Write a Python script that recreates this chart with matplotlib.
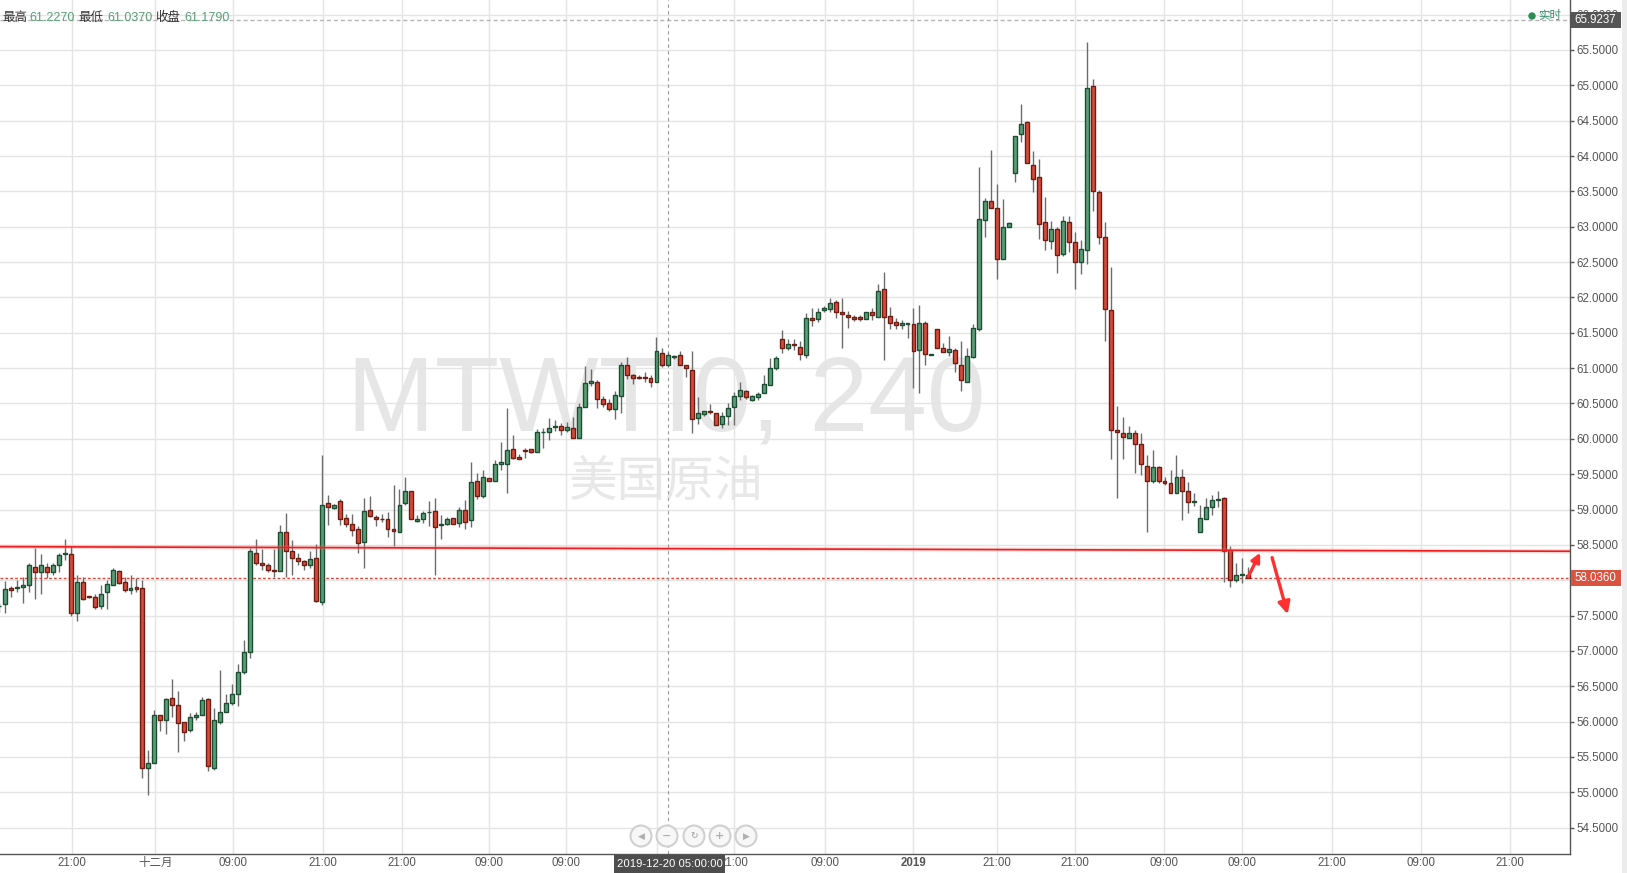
import numpy as np
import matplotlib
matplotlib.use('Agg')
import matplotlib.pyplot as plt
import matplotlib.transforms as mtransforms
from matplotlib.patches import Rectangle, Circle

plt.rcParams['font.family'] = ['Liberation Sans', 'Noto Sans CJK SC', 'DejaVu Sans']

# 4H candles (open, high, low, close)
opens = [57.63, 57.66, 57.89, 57.89, 57.90, 57.93, 58.19, 58.12, 58.19, 58.11,
         58.21, 58.37, 58.37, 57.53, 57.98, 57.77, 57.76, 57.63, 57.83, 57.93,
         58.13, 57.97, 57.86, 57.90, 57.89, 55.35, 55.41, 56.09, 56.03, 56.33,
         56.23, 55.99, 55.88, 56.06, 56.10, 56.32, 55.35, 56.00, 56.13, 56.26,
         56.39, 56.70, 56.99, 58.39, 58.25, 58.21, 58.15, 58.13, 58.68, 58.41,
         58.32, 58.27, 58.21, 58.31, 57.69, 59.09, 59.02, 59.12, 58.88, 58.79,
         58.72, 58.54, 58.99, 58.89, 58.865, 58.86, 58.72, 58.68, 59.09, 59.26,
         58.84, 58.86, 58.96, 58.98, 58.78, 58.79, 58.88, 58.81, 58.99, 58.85,
         59.40, 59.19, 59.44, 59.40, 59.64, 59.65, 59.85, 59.74, 59.84, 59.85,
         59.81, 60.09, 60.09, 60.17, 60.18, 60.13, 60.15, 60.01, 60.455, 60.785,
         60.80, 60.57, 60.50, 60.42, 60.60, 61.05, 60.90, 60.87, 60.87, 60.855,
         60.80, 61.22, 61.04, 61.155, 61.18, 61.04, 60.98, 60.29, 60.35, 60.39,
         60.36, 60.205, 60.32, 60.445, 60.60, 60.67, 60.545, 60.59, 60.645, 60.76,
         60.997, 61.41, 61.28, 61.34, 61.30, 61.18, 61.705, 61.69, 61.82, 61.84,
         61.93, 61.79, 61.747, 61.73, 61.72, 61.69, 61.80, 61.73, 62.115, 61.733,
         61.65, 61.605, 61.627, 61.62, 61.25, 61.634, 61.19, 61.55, 61.28, 61.223,
         61.25, 61.05, 60.81, 61.162, 61.56, 63.09, 63.36, 63.27, 62.55, 63.00,
         63.755, 64.31, 64.48, 63.88, 63.70, 63.06, 62.80, 62.965, 62.61, 63.06,
         62.78, 62.50, 62.67, 64.99, 63.49, 62.85, 61.82, 60.12, 60.08, 60.005,
         60.08, 59.93, 59.62, 59.40, 59.60, 59.41, 59.38, 59.23, 59.46, 59.26,
         59.105, 58.68, 58.87, 59.03, 59.14, 59.16, 58.43, 58.01, 58.08, 58.07]
highs = [57.68, 57.99, 57.92, 58.01, 58.04, 58.25, 58.46, 58.37, 58.24, 58.24,
         58.39, 58.58, 58.48, 58.07, 58.04, 57.78, 57.80, 57.93, 58.00, 58.17,
         58.14, 58.04, 58.08, 58.03, 58.00, 55.60, 56.16, 56.09, 56.34, 56.60,
         56.43, 56.00, 56.12, 56.14, 56.35, 56.34, 56.19, 56.73, 56.39, 56.53,
         56.82, 57.15, 58.45, 58.58, 58.44, 58.25, 58.44, 58.78, 58.95, 58.57,
         58.38, 58.29, 58.41, 58.51, 59.77, 59.21, 59.08, 59.15, 58.93, 58.94,
         58.77, 59.17, 59.19, 58.92, 58.94, 58.96, 59.35, 59.29, 59.46, 59.26,
         58.92, 58.98, 59.12, 59.16, 58.92, 58.90, 58.88, 59.03, 59.13, 59.67,
         59.51, 59.56, 59.44, 59.70, 59.95, 60.43, 60.06, 59.78, 59.87, 59.85,
         60.14, 60.16, 60.30, 60.26, 60.22, 60.24, 60.31, 60.50, 61.03, 60.99,
         60.83, 60.60, 60.56, 60.67, 61.09, 61.16, 60.92, 60.90, 60.945, 60.91,
         61.44, 61.28, 61.227, 61.18, 61.24, 61.04, 61.24, 60.59, 60.40, 60.49,
         60.36, 60.375, 60.50, 60.66, 60.80, 60.685, 60.615, 60.66, 60.90, 61.14,
         61.17, 61.54, 61.41, 61.41, 61.39, 61.78, 61.85, 61.85, 61.88, 61.99,
         61.97, 61.99, 61.81, 61.75, 61.75, 61.80, 61.85, 62.19, 62.36, 61.86,
         61.705, 61.68, 61.63, 61.85, 61.89, 61.66, 61.20, 61.55, 61.35, 61.45,
         61.29, 61.38, 61.28, 61.62, 63.85, 63.40, 64.08, 63.60, 63.39, 63.06,
         64.29, 64.73, 64.49, 64.07, 63.955, 63.42, 63.08, 63.00, 63.155, 63.155,
         62.93, 62.81, 65.62, 65.085, 63.515, 63.07, 62.43, 60.47, 60.31, 60.18,
         60.12, 60.085, 59.765, 59.84, 59.62, 59.46, 59.555, 59.765, 59.57, 59.39,
         59.24, 59.06, 59.16, 59.205, 59.26, 59.18, 58.48, 58.245, 58.31, 58.185]
lows = [57.55, 57.54, 57.76, 57.84, 57.68, 57.84, 57.74, 57.81, 58.03, 58.08,
        58.12, 58.28, 57.50, 57.43, 57.72, 57.75, 57.59, 57.60, 57.60, 57.93,
        57.94, 57.84, 57.80, 57.84, 55.20, 54.96, 55.41, 55.87, 55.82, 56.07,
        55.57, 55.72, 55.86, 56.03, 56.10, 55.30, 55.31, 55.96, 56.13, 56.23,
        56.22, 56.67, 56.90, 58.22, 58.14, 58.11, 58.04, 58.13, 58.04, 58.08,
        58.22, 58.15, 58.17, 57.69, 57.65, 58.78, 59.01, 58.78, 58.76, 58.63,
        58.39, 58.18, 58.89, 58.77, 58.82, 58.61, 58.49, 58.68, 59.07, 58.86,
        58.82, 58.81, 58.77, 58.08, 58.58, 58.78, 58.79, 58.75, 58.72, 58.76,
        59.15, 59.16, 59.41, 59.40, 59.56, 59.24, 59.71, 59.72, 59.73, 59.80,
        59.81, 59.87, 59.99, 60.11, 60.06, 60.09, 60.01, 60.01, 60.455, 60.75,
        60.43, 60.455, 60.39, 60.285, 60.36, 60.84, 60.77, 60.84, 60.81, 60.74,
        60.80, 61.01, 61.037, 61.13, 61.04, 60.88, 60.08, 60.205, 60.33, 60.35,
        60.19, 60.15, 60.19, 60.19, 60.545, 60.57, 60.53, 60.545, 60.645, 60.76,
        60.98, 61.21, 61.25, 61.25, 61.11, 61.14, 61.60, 61.65, 61.80, 61.79,
        61.71, 61.28, 61.57, 61.66, 61.67, 61.69, 61.68, 61.73, 61.12, 61.55,
        61.56, 61.56, 61.42, 60.72, 60.65, 61.04, 61.19, 61.28, 61.223, 61.17,
        60.94, 60.67, 60.81, 61.14, 61.53, 62.85, 63.26, 62.26, 62.55, 62.99,
        63.63, 64.20, 63.90, 63.49, 62.83, 62.67, 62.69, 62.34, 62.58, 62.64,
        62.12, 62.33, 62.48, 63.22, 62.755, 61.38, 59.72, 59.16, 59.71, 60.005,
        59.52, 59.49, 58.68, 59.37, 59.37, 59.35, 59.23, 59.23, 58.85, 58.95,
        59.05, 58.68, 58.87, 58.92, 59.03, 57.98, 57.905, 57.98, 57.96, 58.03]
closes = [57.64, 57.87, 57.86, 57.895, 57.93, 58.21, 58.11, 58.21, 58.11, 58.21,
          58.35, 58.38, 57.53, 57.97, 57.74, 57.765, 57.62, 57.81, 57.94, 58.15,
          57.96, 57.86, 57.89, 57.87, 55.34, 55.42, 56.09, 56.03, 56.32, 56.23,
          55.98, 55.86, 56.06, 56.10, 56.30, 55.37, 56.02, 56.13, 56.27, 56.39,
          56.70, 56.99, 58.41, 58.24, 58.22, 58.14, 58.13, 58.68, 58.41, 58.31,
          58.27, 58.21, 58.30, 57.70, 59.06, 59.03, 59.06, 58.86, 58.79, 58.71,
          58.52, 58.98, 58.91, 58.86, 58.86, 58.73, 58.69, 59.07, 59.26, 58.86,
          58.87, 58.95, 58.965, 58.75, 58.785, 58.86, 58.79, 58.99, 58.83, 59.39,
          59.19, 59.46, 59.41, 59.65, 59.67, 59.84, 59.73, 59.72, 59.835, 59.81,
          60.09, 60.095, 60.15, 60.175, 60.13, 60.17, 60.01, 60.45, 60.785, 60.82,
          60.57, 60.49, 60.42, 60.615, 61.04, 60.90, 60.86, 60.855, 60.86, 60.80,
          61.24, 61.04, 61.179, 61.17, 61.05, 60.995, 60.275, 60.36, 60.39, 60.375,
          60.19, 60.33, 60.43, 60.60, 60.685, 60.59, 60.60, 60.63, 60.77, 60.997,
          61.14, 61.29, 61.34, 61.325, 61.195, 61.705, 61.68, 61.80, 61.85, 61.92,
          61.80, 61.76, 61.72, 61.69, 61.70, 61.79, 61.747, 62.09, 61.72, 61.634,
          61.605, 61.634, 61.63, 61.24, 61.634, 61.195, 61.195, 61.28, 61.223, 61.266,
          61.07, 60.83, 61.167, 61.563, 63.105, 63.36, 63.26, 62.54, 62.99, 63.05,
          64.29, 64.46, 63.90, 63.68, 63.04, 62.81, 62.965, 62.60, 63.08, 62.78,
          62.50, 62.68, 64.96, 63.50, 62.85, 61.83, 60.12, 60.095, 60.02, 60.08,
          59.92, 59.64, 59.40, 59.60, 59.40, 59.38, 59.23, 59.46, 59.26, 59.10,
          59.11, 58.885, 59.03, 59.13, 59.145, 58.42, 58.01, 58.07, 58.085, 58.036]

# time axis: gridline positions (candle index) and their labels;
# the label under the crosshair time box is hidden in the reference
tick_pos = [12.14, 26.15, 39.1, 54.15, 67.37, 81.98, 94.93, 110.08, 122.97,
            138.19, 152.98, 166.97, 180.07, 194.91, 207.96, 223.02, 237.91, 252.8]
tick_labels = ['21:00', '十二月', '09:00', '21:00', '21:00', '09:00', '09:00',
               '', '21:00', '09:00', '2019', '21:00', '21:00', '09:00',
               '09:00', '21:00', '09:00', '21:00']

cross_idx = 112
cross_label = '2019-12-20 05:00:00'
max_line = 65.9237
trend_x = [0.16, 262.84]
trend_y = [58.475, 58.41]
arrows = [((209.0, 58.05), (211.0, 58.39), 13), ((213.0, 58.32), (215.6, 57.52), 18)]

W, H = 1627, 873
GREEN, GREEN_E = '#5a9f77', '#1d4d33'
RED, RED_E = '#d64b3a', '#6e1d14'
TXT = '#555555'

o = np.array(opens); h = np.array(highs); l = np.array(lows); c = np.array(closes)
x = np.arange(len(o))
up = c >= o

fig = plt.figure(figsize=(W / 100, H / 100), dpi=100)
ax = fig.add_axes([0, 19 / H, 1570 / W, 854 / H])
ax.set_xlim(0.163, 262.84)
ax.set_ylim(54.128, 66.207)

# watermark
ax.text(666 / W, 1 - 431 / H, 'MTWTI0, 240', transform=fig.transFigure,
        ha='center', va='baseline', fontsize=76, color='#e6e6e6', zorder=0.3,
        family=['Liberation Sans', 'DejaVu Sans'])
ax.text(666 / W, 1 - 482 / H, '美国原油', transform=fig.transFigure,
        ha='center', va='center', fontsize=35, color='#e8e8e8', zorder=0.3,
        family=['Noto Sans CJK SC', 'DejaVu Sans'])

# grid and axes
ax.set_yticks(np.arange(54.5, 66.01, 0.5))
ax.yaxis.tick_right()
ax.yaxis.set_major_formatter(plt.FormatStrFormatter('%.4f'))
ax.set_xticks(tick_pos)
ax.set_xticklabels(tick_labels)
ax.xaxis.get_ticklabels()[10].set_fontweight('bold')
ax.tick_params(axis='y', length=3, width=1, color=TXT, pad=1.5, labelsize=8.3, labelcolor=TXT)
ax.tick_params(axis='x', length=0, pad=2, labelsize=8.3, labelcolor=TXT)
ax.grid(color='#e4e4e4', lw=1)
ax.set_axisbelow(True)
for s in ['top', 'left']:
    ax.spines[s].set_visible(False)
for s in ['right', 'bottom']:
    ax.spines[s].set_color('#555555')
    ax.spines[s].set_linewidth(1)

# reference lines
ax.axhline(max_line, color='#b5b5b5', lw=1, ls=(0, (3, 2)), zorder=1)
ax.axhline(c[-1], color='#d9473a', lw=1, ls=(0, (2, 1.5)), zorder=1)
ax.axvline(cross_idx, color='#9a9a9a', lw=0.8, ls=(0, (3, 3)), zorder=1.5)
ax.plot(trend_x, trend_y, color='#ff8080', lw=3, alpha=0.3, zorder=3.9)
ax.plot(trend_x, trend_y, color='#ee1c1c', lw=1.2, zorder=4)

# candles
ax.vlines(x, l, h, color='#6c6c6c', lw=1, zorder=2)
body_bot = np.minimum(o, c)
body_h = np.maximum(np.abs(c - o), 0.012)
ax.bar(x[up], body_h[up], bottom=body_bot[up], width=0.66, color=GREEN,
       edgecolor=GREEN_E, lw=1, zorder=3)
ax.bar(x[~up], body_h[~up], bottom=body_bot[~up], width=0.66, color=RED,
       edgecolor=RED_E, lw=1, zorder=3)

# hand-drawn arrows
for (x0, y0), (x1, y1), ms in arrows:
    ax.annotate('', xy=(x1, y1), xytext=(x0, y0),
                arrowprops=dict(arrowstyle='-|>', color='#ff3030', lw=2.4,
                                mutation_scale=ms, shrinkA=0, shrinkB=0), zorder=5)

# price boxes on the right axis
bt = mtransforms.blended_transform_factory(ax.transAxes, ax.transData)
for val, col in [(max_line, '#555555'), (c[-1], '#d9533f')]:
    ax.add_patch(Rectangle((1.0005, val - 0.112), 50 / 1570, 0.224, transform=bt,
                           facecolor=col, edgecolor='none', clip_on=False, zorder=6))
    ax.text(1 + 25.5 / 1570, val, '%.4f' % val, transform=bt, ha='center', va='center',
            fontsize=8.3, color='white', zorder=7)

# crosshair time label
bx = mtransforms.blended_transform_factory(ax.transData, ax.transAxes)
ax.add_patch(Rectangle((cross_idx - 54 / 5.977, -0.0222), 111 / 5.977, 0.021, transform=bx,
                       facecolor='#4d4d4d', edgecolor='none', clip_on=False, zorder=6))
ax.text(cross_idx + 0.2, -0.0117, cross_label, transform=bx, ha='center', va='center',
        fontsize=8.1, color='white', zorder=7)

# header with the crosshair candle values
hdr = [('最高', 2, '#333333'), ('%.4f' % h[cross_idx], 29, GREEN),
       ('最低', 78, '#333333'), ('%.4f' % l[cross_idx], 107, GREEN),
       ('收盘', 155, '#333333'), ('%.4f' % c[cross_idx], 184, GREEN)]
for t, px, col in hdr:
    fig.text(px / W, 1 - 18 / H, t, ha='left', va='center', fontsize=9, color=col)

# realtime marker
fig.add_artist(Circle((1532 / 100, (H - 16) / 100), 0.03, transform=fig.dpi_scale_trans,
                      color='#2e8b57'))
fig.text(1538 / W, 1 - 16 / H, '实时', ha='left', va='center', fontsize=8.3, color='#2e8b6a')

# navigation buttons
icons = ['◀', '−', '↻', '+', '▶']
for k, cx in enumerate([641, 667, 694, 720, 746]):
    fig.add_artist(Circle((cx / 100, (H - 836) / 100), 0.105, transform=fig.dpi_scale_trans,
                          facecolor='#f7f7f7', edgecolor='#d0d0d0', lw=1.5))
    fig.text(cx / W, 1 - 836 / H, icons[k], ha='center', va='center',
             fontsize=8 if k in (1, 3) else 6.5, color='#b0b0b0', fontweight='bold',
             family=['DejaVu Sans'])

fig.add_artist(Rectangle((1622 / W, 0), 5 / W, 1, transform=fig.transFigure,
                         facecolor='#ececec', edgecolor='none'))

fig.savefig('out.png', dpi=100)
